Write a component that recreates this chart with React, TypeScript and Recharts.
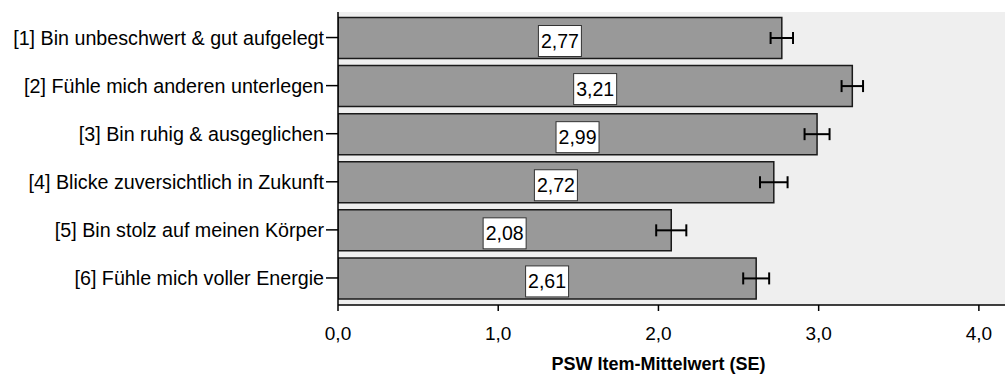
import React from 'react';
import { BarChart, Bar, XAxis, YAxis, CartesianGrid, ErrorBar, LabelList } from 'recharts';

const categories = [
  '[1] Bin unbeschwert & gut aufgelegt',
  '[2] Fühle mich anderen unterlegen',
  '[3] Bin ruhig & ausgeglichen',
  '[4] Blicke zuversichtlich in Zukunft',
  '[5] Bin stolz auf meinen Körper',
  '[6] Fühle mich voller Energie',
];
const means = [2.77, 3.21, 2.99, 2.72, 2.08, 2.61];
const standardErrors = [0.07, 0.067, 0.078, 0.086, 0.094, 0.081];
const xTicks = [0, 1, 2, 3, 4];

const data = categories.map((name, i) => ({ name, mean: means[i], se: standardErrors[i] }));

const FONT = '"Liberation Sans", Arial, Helvetica, sans-serif';
const fmt = (v: number, d = 2) => v.toFixed(d).replace('.', ',');

const renderValueLabel = (props: any) => {
  const { x, y, width, height, value } = props;
  const cx = Number(x) + Number(width) / 2;
  const cy = Number(y) + Number(height) / 2 + 3;
  return (
    <g>
      <rect x={cx - 21.5} y={cy - 15.5} width={43} height={31} fill="#ffffff" stroke="#333333" strokeWidth={1} />
      <text x={cx} y={cy} textAnchor="middle" dominantBaseline="central" fontSize={19.5} fontFamily={FONT} fill="#000">
        {fmt(Number(value))}
      </text>
    </g>
  );
};

export default function App() {
  return (
    <div style={{ position: 'absolute', left: 0, top: 0, width: 1005, height: 378, background: '#fff' }}>
      <BarChart
        width={1005}
        height={378}
        data={data}
        layout="vertical"
        margin={{ top: 12, right: 0, bottom: 0, left: 0 }}
      >
        <CartesianGrid horizontal={false} vertical={false} fill="#efefef" />
        <XAxis
          xAxisId="top"
          orientation="top"
          type="number"
          domain={[0, 1]}
          height={0}
          tick={false}
          tickLine={false}
          axisLine={{ stroke: '#444', strokeWidth: 1.5 }}
        />
        <XAxis
          type="number"
          domain={[0, 4.163]}
          ticks={xTicks}
          allowDataOverflow
          height={73}
          tickSize={6}
          tickMargin={16}
          tickFormatter={(v: number) => fmt(v, 1)}
          tick={{ fontSize: 19, fill: '#000', fontFamily: FONT }}
          tickLine={{ stroke: '#000', strokeWidth: 1.5 }}
          axisLine={{ stroke: '#000', strokeWidth: 1.5 }}
          label={{
            value: 'PSW Item-Mittelwert (SE)',
            position: 'insideBottom',
            offset: 8,
            dx: -13,
            style: { fontSize: 18, fontWeight: 'bold', fill: '#000', fontFamily: FONT },
          }}
        />
        <YAxis
          type="category"
          dataKey="name"
          width={338}
          padding={{ top: 1.5, bottom: 3 }}
          tickSize={12}
          tickMargin={2}
          interval={0}
          tick={{ fontSize: 19.7, fill: '#000', fontFamily: FONT }}
          tickLine={{ stroke: '#000', strokeWidth: 1.5 }}
          axisLine={{ stroke: '#000', strokeWidth: 1.5 }}
        />
        <Bar dataKey="mean" fill="#999999" stroke="#1a1a1a" strokeWidth={1.5} barSize={41} isAnimationActive={false}>
          <ErrorBar dataKey="se" direction="x" width={6} stroke="#000" strokeWidth={2} isAnimationActive={false} />
          <LabelList dataKey="mean" content={renderValueLabel} />
        </Bar>
      </BarChart>
    </div>
  );
}
